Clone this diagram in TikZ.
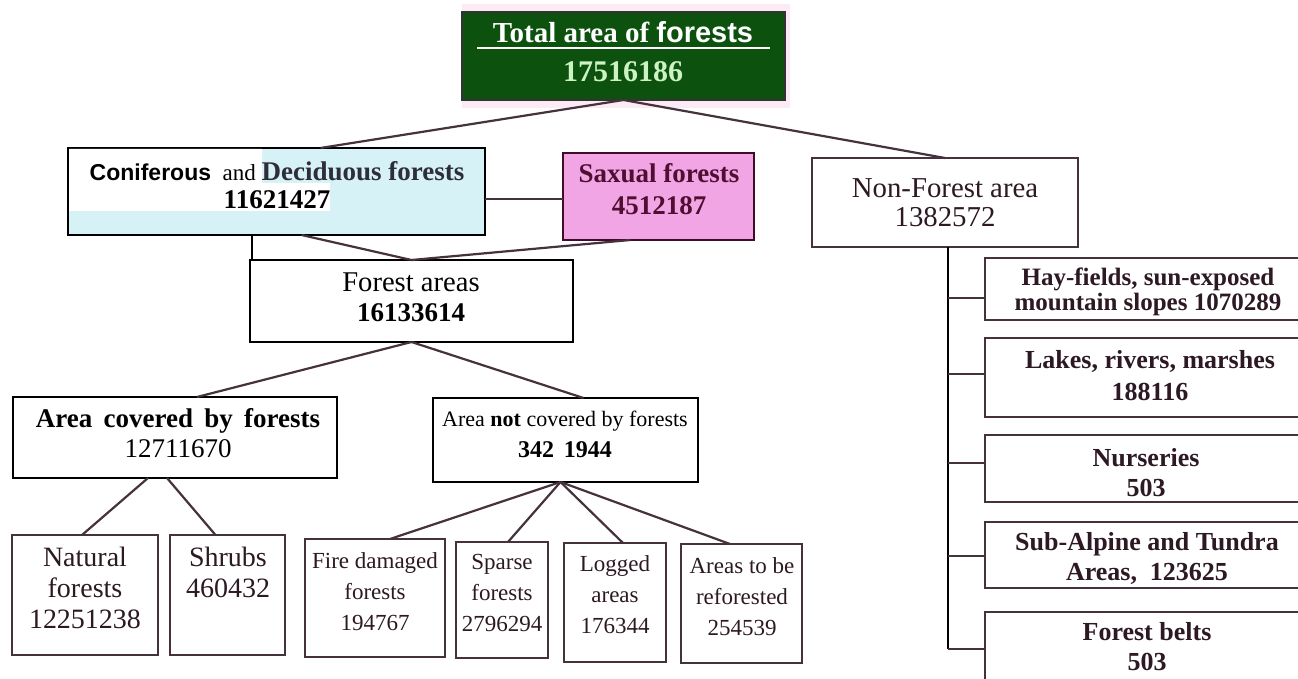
\documentclass[tikz,border=0pt]{standalone}
\usepackage{fontspec}
\setmainfont{Liberation Serif}
\newfontfamily\sansf{Liberation Sans}
\usetikzlibrary{calc}
\definecolor{tgreen}{RGB}{12,82,14}
\definecolor{numgreen}{RGB}{205,242,195}
\definecolor{lblue}{RGB}{214,242,246}
\definecolor{spink}{RGB}{242,165,228}
\definecolor{tpink}{RGB}{252,234,245}
\definecolor{scanline}{RGB}{70,50,60}
\definecolor{scantext}{RGB}{45,25,35}
\definecolor{saxtext}{RGB}{80,15,50}
\definecolor{decid}{RGB}{45,45,60}
\newcommand\fsz[2]{\fontsize{#1}{#2}\selectfont}
\tikzset{
  bx/.style 2 args={draw, line width=1pt, inner sep=0pt, outer sep=0pt,
    minimum width={#1*0.5pt}, minimum height={#2*0.5pt}},
  typed/.style={draw=black},
  scan/.style={draw=scanline},
  txt/.style={inner sep=0pt, align=center},
  conn/.style={draw=scanline, line width=1.1pt},
}
\begin{document}
\begin{tikzpicture}[x=0.5pt, y=-0.5pt]
\useasboundingbox (0,0) rectangle (1298,679);
\clip (0,0) rectangle (1298,679);
\fill[white] (0,0) rectangle (1298,679);

% title
\fill[tpink] (462,4) rectangle (790,108);
\node[bx={323}{88}, draw=black!80, fill=tgreen] (total) at (623.5,56) {};
\node[txt, text=white, font=\fsz{14.5}{17}\bfseries] (ttl) at (623,32) {Total area of {\sansf\bfseries forests}};
\draw[white, line width=1pt] (477,48) -- (770,48);
\node[txt, text=numgreen, font=\fsz{15}{17}\bfseries] (tnum) at (623,72) {17516186};

% coniferous
\node[bx={417}{87}, typed, fill=lblue] (conif) at (276.5,191.5) {};
\fill[white] (69,149) -- (262,149) -- (262,183) -- (330,183) -- (330,211) -- (69,211) -- cycle;
\node[txt, font=\fsz{11.5}{15}] (conift) at (277,185) {{\sansf\bfseries Coniferous}\ \ and {\color{decid}\fsz{13.5}{15}\bfseries Deciduous forests}\\[-1pt]{\fsz{13.5}{15}\bfseries 11621427}};

% saxual
\node[bx={191}{87}, draw=saxtext!80!black, fill=spink] (sax) at (658.5,196.5) {};
\node[txt, text=saxtext, font=\fsz{13.5}{16}\bfseries] (saxt) at (659,189) {Saxual forests\\4512187};

% non-forest
\node[bx={266}{89}, scan, fill=white] (nf) at (945,202.5) {};
\node[txt, text=scantext, font=\fsz{14.4}{14.5}] (nft) at (945,202.5) {Non-Forest area\\1382572};

% forest areas
\node[bx={323}{82}, typed, fill=white] (fa) at (411.5,301) {};
\node[txt, font=\fsz{14.3}{15}] (fat) at (411,297) {Forest areas\\{\fsz{13.5}{15}\bfseries 16133614}};

% covered / not covered
\node[bx={324}{81}, typed, fill=white] (ac) at (175,437.5) {};
\node[txt, font=\fsz{13.5}{15}] (act) at (178,433) {\textbf{Area\, covered\, by\, forests}\\12711670};
\node[bx={265}{84}, typed, fill=white] (an) at (565.5,440) {};
\node[txt, font=\fsz{11}{15.5}] (ant) at (565,434.5) {Area \textbf{not} covered by forests\\{\fsz{12}{15.5}\bfseries 342\, 1944}};

% bottom boxes
\node[bx={146}{120}, scan] (nat) at (85,595) {};
\node[txt, text=scantext, font=\fsz{14}{15.5}] (natt) at (85,588) {Natural\\forests\\12251238};
\node[bx={115}{120}, scan] (shr) at (227.5,595) {};
\node[txt, text=scantext, font=\fsz{14}{15.5}] (shrt) at (228,572.5) {Shrubs\\460432};
\node[bx={140}{118}, scan] (fire) at (375,598) {};
\node[txt, text=scantext, font=\fsz{11.5}{15.5}] (firet) at (375,592) {Fire damaged\\forests\\194767};
\node[bx={92}{116}, scan] (spa) at (502,600) {};
\node[txt, text=scantext, font=\fsz{11.5}{15.5}] (spat) at (502,593) {Sparse\\forests\\2796294};
\node[bx={102}{119}, scan] (logg) at (615,602.5) {};
\node[txt, text=scantext, font=\fsz{11.5}{15.5}] (loggt) at (615,595) {Logged\\areas\\176344};
\node[bx={121}{119}, scan] (refo) at (741.5,603.5) {};
\node[txt, text=scantext, font=\fsz{11.5}{15.5}] (refot) at (742,597) {Areas to be\\reforested\\254539};

% right column
\node[bx={325}{62}, scan] (hay) at (1147.5,289) {};
\node[txt, text=scantext, font=\fsz{12.5}{12.5}\bfseries] (hayt) at (1148,292) {Hay-fields, sun-exposed\\mountain slopes 1070289};
\node[bx={325}{79}, scan] (lake) at (1147.5,377.5) {};
\node[txt, text=scantext, font=\fsz{13}{16}\bfseries] (laket) at (1150,376) {Lakes, rivers, marshes\\188116};
\node[bx={325}{67}, scan] (nur) at (1147.5,468.5) {};
\node[txt, text=scantext, font=\fsz{13}{15}\bfseries] (nurt) at (1146,473) {Nurseries\\503};
\node[bx={325}{66}, scan] (sub) at (1147.5,555) {};
\node[txt, text=scantext, font=\fsz{13}{15}\bfseries] (subt) at (1147,558) {Sub-Alpine and Tundra\\Areas,\ \ 123625};
\node[bx={325}{74}, scan] (belt) at (1147.5,649) {};
\node[txt, text=scantext, font=\fsz{13}{15}\bfseries] (beltt) at (1147,647) {Forest belts\\503};

% connectors
\draw[conn] (total.south) -- ($(conif.north)+(44,0)$);
\draw[conn] (total.south) -- (nf.north);
\draw[conn] ($(conif.east)+(0,7.5)$) -- ($(sax.west)+(0,2.5)$);
\draw[conn] ($(conif.south)+(25,0)$) -- (fa.north);
\draw[conn] ($(sax.south)+(-28,0)$) -- (fa.north);
\draw[conn, draw=black] ($(conif.south)+(-24.5,0)$) -- ($(fa.north west)+(2,0)$);
\draw[conn] (fa.south) -- ($(ac.north)+(22,0)$);
\draw[conn] (fa.south) -- ($(an.north)+(18,0)$);
\draw[conn] ($(ac.south)+(-27,0)$) -- ($(nat.north)+(-3,0)$);
\draw[conn] ($(ac.south)+(-8,0)$) -- ($(shr.north)+(-12,0)$);
\draw[conn] ($(an.south)+(-5,0)$) -- ($(fire.north)+(15,0)$);
\draw[conn] ($(an.south)+(-5,0)$) -- ($(spa.north)+(6,0)$);
\draw[conn] ($(an.south)+(-5,0)$) -- ($(logg.north)+(8,0)$);
\draw[conn] ($(an.south)+(-5,0)$) -- ($(refo.north)+(-11.5,0)$);

\coordinate (vx) at ($(nf.south)+(3,0)$);
\coordinate (hb) at ($(hay.west)+(0,9)$);
\coordinate (lb) at ($(lake.west)+(0,-3.5)$);
\coordinate (nb) at ($(nur.west)+(0,-5.5)$);
\coordinate (sb) at ($(sub.west)+(0,1)$);
\draw[conn, draw=black] (vx) -- (vx |- belt.west);
\draw[conn] (hb -| vx) -- (hb);
\draw[conn] (lb -| vx) -- (lb);
\draw[conn] (nb -| vx) -- (nb);
\draw[conn] (sb -| vx) -- (sb);
\draw[conn] (belt.west -| vx) -- (belt.west);
\end{tikzpicture}
\end{document}
